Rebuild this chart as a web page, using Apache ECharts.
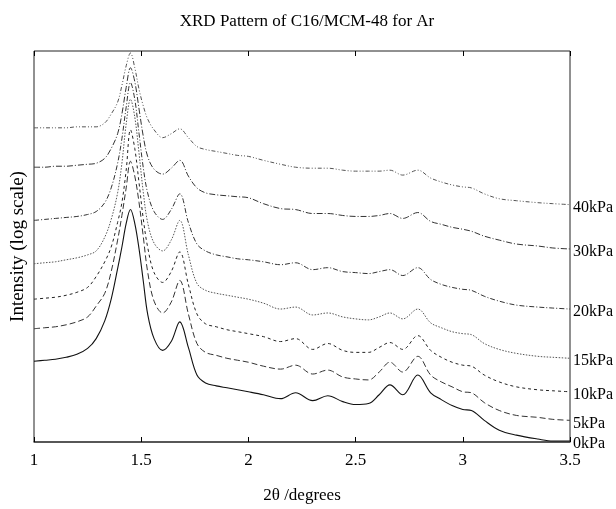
<!DOCTYPE html>
<html>
<head>
<meta charset="utf-8">
<script src="https://cdn.jsdelivr.net/npm/echarts@6/dist/echarts.min.js"></script>
<style>html,body{margin:0;padding:0;background:#fff;}#c{width:616px;height:509px;}</style>
</head>
<body>
<div id="c"></div>
<script>
// 2theta positions (degrees)
const twoTheta = [1.00,1.05,1.10,1.15,1.20,1.25,1.29,1.33,1.36,1.39,1.41,1.43,1.45,1.47,1.49,1.51,1.53,1.56,1.60,1.64,1.68,1.72,1.76,1.80,1.85,1.90,1.95,2.00,2.07,2.15,2.22,2.30,2.37,2.44,2.50,2.56,2.61,2.66,2.72,2.79,2.85,2.90,2.95,3.00,3.04,3.10,3.17,3.25,3.35,3.42,3.50];

// offset log-intensity curves (arbitrary units)
const p0kPa  = [82,83,84,86,89,95,105,123,145,176,198,222,236,222,196,163,130,105,93,102,122,96,68,60,57,55,53,51,48,44,50,42,47,41,38,39,48,58,48,68,50,43,37,33,32,22,12,7,3,1,1];
const p5kPa  = [115,116,117,119,122,127,138,151,173,205,230,258,285,270,243,208,173,143,131,142,164,130,100,91,88,85,83,81,77,74,78,69,73,66,64,63,71,81,71,87,68,61,56,51,50,40,32,27,25,23,22];
const p10kPa = [145,146,147,149,152,157,168,183,198,223,243,276,317,298,263,226,198,172,162,173,193,160,130,120,117,114,112,110,107,102,105,94,100,93,91,91,96,101,94,108,93,86,81,78,77,68,61,56,53,52,51];
const p15kPa = [181,182,183,185,187,190,194,208,226,253,283,323,348,330,293,253,223,202,194,205,225,190,161,154,151,149,147,145,141,135,137,129,131,127,125,124,127,131,125,135,121,116,112,110,109,100,94,90,87,86,85];
const p20kPa = [225,226,227,228,229,231,234,243,258,283,308,340,365,348,313,278,253,234,226,236,252,223,201,194,190,188,186,185,183,180,182,175,177,173,172,171,173,175,169,177,165,160,157,155,154,148,143,139,137,136,135];
const p30kPa = [279,279,280,280,281,282,283,288,298,313,333,360,380,366,338,310,290,277,272,278,286,270,258,253,251,250,249,248,242,237,236,232,232,230,229,229,230,232,227,233,224,221,218,216,214,209,205,201,199,197,196];
const p40kPa = [319,319,319,319,320,320,320,324,333,345,362,382,395,380,358,341,328,317,309,313,318,309,300,297,295,293,291,290,286,282,279,278,278,276,275,275,275,276,271,276,268,264,261,259,258,252,247,245,243,242,241];

const seriesNames = ['0kPa','5kPa','10kPa','15kPa','20kPa','30kPa','40kPa'];
const seriesValues = [p0kPa,p5kPa,p10kPa,p15kPa,p20kPa,p30kPa,p40kPa];
const xTicks = [1,1.5,2,2.5,3,3.5];

const styles = [
  {type:'solid', color:'#111', width:1.1},
  {type:[6,3], color:'#333', width:1},
  {type:[3,3], color:'#222', width:1},
  {type:[1.5,1.5], color:'#555', width:1},
  {type:[5,2,1,2], color:'#333', width:1},
  {type:[6,2,1,2], color:'#333', width:1},
  {type:[4,2,1,2,1,2], color:'#555', width:1}
];
const font = 'Liberation Serif';

const chart = echarts.init(document.getElementById('c'), null, {renderer:'canvas'});
chart.setOption({
  animation: false,
  backgroundColor: '#fff',
  title: {
    text: 'XRD Pattern of C16/MCM-48 for Ar',
    left: 302, top: 8, textAlign: 'center',
    textStyle: {fontFamily: font, fontSize: 17, fontWeight: 'normal', color: '#000'}
  },
  grid: {left: 34, right: 46, top: 51, bottom: 61, show: true, borderColor: '#222', borderWidth: 1},
  xAxis: [{
    type: 'value', min: 1, max: 3.5, interval: 0.5, position: 'bottom',
    name: '2θ /degrees', nameLocation: 'middle', nameGap: 45,
    nameTextStyle: {fontFamily: font, fontSize: 17, color: '#000'},
    axisLine: {show: true, lineStyle: {color: '#444', width: 1.5}},
    axisTick: {show: true, inside: true, length: 5, lineStyle: {color: '#000'}},
    axisLabel: {fontFamily: font, fontSize: 17, color: '#000', margin: 10,
      formatter: v => xTicks.includes(v) ? String(v) : ''},
    splitLine: {show: false}
  },{
    type: 'value', min: 1, max: 3.5, interval: 0.5, position: 'top',
    axisLine: {show: false},
    axisTick: {show: true, inside: true, length: 5, lineStyle: {color: '#000'}},
    axisLabel: {show: false}, splitLine: {show: false}
  }],
  yAxis: {
    type: 'value', min: 0, max: 397,
    name: 'Intensity (log scale)', nameLocation: 'middle', nameGap: 6, nameRotate: 90,
    nameTextStyle: {fontFamily: font, fontSize: 19, color: '#000'},
    axisLine: {show: false}, axisTick: {show: false}, axisLabel: {show: false}, splitLine: {show: false}
  },
  series: seriesNames.map((n, i) => ({
    name: n, type: 'line', smooth: 0.35, symbol: 'none', xAxisIndex: 0,
    data: twoTheta.map((x, j) => [x, seriesValues[i][j]]),
    lineStyle: styles[i],
    endLabel: {show: true, formatter: '{a}', distance: 3, offset: [0, 3], fontFamily: font, fontSize: 16, color: '#000'}
  }))
});
</script>
</body>
</html>
